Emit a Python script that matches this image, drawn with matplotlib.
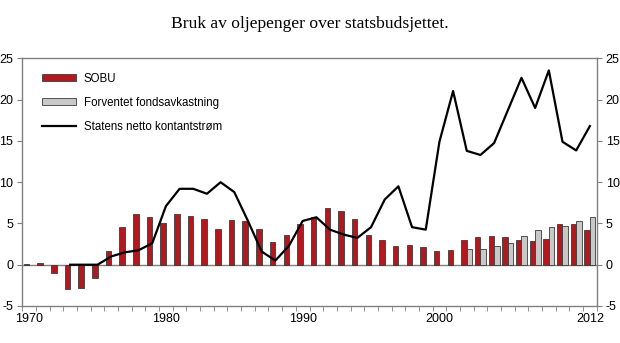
import numpy as np
import matplotlib
matplotlib.use("Agg")
import matplotlib.pyplot as plt
from matplotlib.patches import Patch
from matplotlib.lines import Line2D

plt.rcParams["axes.unicode_minus"] = False

# 42 categories on the x axis, first labelled 1970, last labelled 2012
n_cat = 42
tick_idx = [0, 10, 20, 30, 41]
tick_labels = ["1970", "1980", "1990", "2000", "2012"]

sobu = [0.05, 0.2, -1.0, -2.9, -2.85, -1.6, 1.7, 4.6, 6.1, 5.8,
        5.05, 6.1, 5.9, 5.6, 4.3, 5.45, 5.25, 4.35, 2.75, 3.6,
        4.95, 5.75, 6.85, 6.45, 5.55, 3.6, 2.95, 2.25, 2.35, 2.15,
        1.65, 1.75, 2.95, 3.35, 3.45, 3.35, 2.95, 2.85, 3.15, 4.95,
        4.95, 4.15]

# expected fund return, from the 33rd category on
fond = [np.nan] * 32 + [1.95, 1.85, 2.3, 2.65, 3.45, 4.25, 4.55, 4.75, 5.25, 5.75]

netto = [np.nan, np.nan, np.nan, 0.0, 0.0, 0.0, 1.0, 1.5, 1.75, 2.6,
         7.1, 9.2, 9.2, 8.6, 10.0, 8.8, 5.3, 1.6, 0.5, 2.3,
         5.3, 5.75, 4.25, 3.65, 3.25, 4.55, 7.9, 9.5, 4.55, 4.25,
         14.9, 21.05, 13.8, 13.3, 14.75, 18.7, 22.65, 19.0, 23.55, 14.9,
         13.85, 16.8]

red = "#b2191e"
grey = "#c8c8c8"
edge = "#3a3a3a"
axcol = "#808080"

fig = plt.figure(figsize=(6.2, 3.43), dpi=100)
ax = fig.add_axes([0.036, 0.108, 0.9264, 0.7216])

x = np.arange(n_cat)
w = 0.4
ax.bar(x - w / 2, sobu, width=w, color=red, edgecolor=edge, linewidth=0.6, zorder=3)
ax.bar(x + w / 2, fond, width=w, color=grey, edgecolor=edge, linewidth=0.6, zorder=3)
ax.plot(x, netto, color="black", linewidth=1.6, zorder=4)
ax.axhline(0, color=axcol, linewidth=1.0, zorder=2)

ax.set_xlim(-0.5, 41.5)
ax.set_ylim(-5, 25)
ax.set_yticks(np.arange(-5, 26, 5))

ax.set_xticks(tick_idx)
ax.set_xticklabels(tick_labels)
ax.set_xticks(np.arange(-0.5, 41.6, 1), minor=True)
ax.tick_params(axis="x", which="major", length=0, pad=5, labelsize=9)
ax.tick_params(axis="x", which="minor", length=3.5, direction="out", color=axcol)
ax.tick_params(axis="y", which="major", length=3.5, direction="out", color=axcol,
               labelsize=9, left=True, right=True, labelleft=True, labelright=True, pad=3)

for s in ax.spines.values():
    s.set_color(axcol)
    s.set_linewidth(1.0)

for lab in ax.get_xticklabels() + ax.get_yticklabels():
    lab.set_fontfamily("Liberation Sans")

handles = [Patch(facecolor=red, edgecolor=edge, linewidth=0.6),
           Patch(facecolor=grey, edgecolor=edge, linewidth=0.6),
           Line2D([], [], color="black", linewidth=1.6)]
names = ["SOBU", "Forventet fondsavkastning", "Statens netto kontantstrøm"]
leg = ax.legend(handles, names, loc="upper left", frameon=False,
                prop={"family": "Liberation Sans", "size": 8.3},
                handlelength=2.9, handleheight=0.6, labelspacing=1.05,
                handletextpad=0.7, borderaxespad=0.5, bbox_to_anchor=(0.017, 0.985))

fig.text(0.499, 0.93, "Bruk av oljepenger over statsbudsjettet.", ha="center", va="center",
         fontsize=12.6, family="Liberation Serif")

fig.savefig("out.png", dpi=100)
